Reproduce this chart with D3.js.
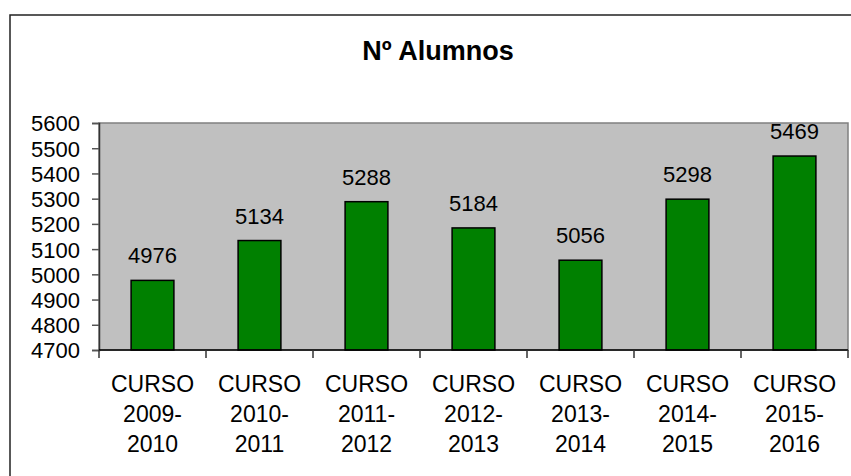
<!DOCTYPE html>
<html>
<head>
<meta charset="utf-8">
<script src="https://cdn.jsdelivr.net/npm/d3@7"></script>
<style>
  body { margin: 0; background: #fff; }
  text { font-family: "Liberation Sans", Arial, sans-serif; fill: #000; }
</style>
</head>
<body>
<div id="chart"></div>
<script>
let cursos = [
  ["CURSO", "2009-", "2010"],
  ["CURSO", "2010-", "2011"],
  ["CURSO", "2011-", "2012"],
  ["CURSO", "2012-", "2013"],
  ["CURSO", "2013-", "2014"],
  ["CURSO", "2014-", "2015"],
  ["CURSO", "2015-", "2016"]
];
let alumnos = [4976, 5134, 5288, 5184, 5056, 5298, 5469];
let yTicks = [4700, 4800, 4900, 5000, 5100, 5200, 5300, 5400, 5500, 5600];
let title = "Nº Alumnos";

let w = 851;
let h = 476;
let plot = { left: 99, top: 123, right: 848, bottom: 350 };

let svg = d3
  .select("#chart")
  .append("svg")
  .attr("width", w)
  .attr("height", h);

// outer chart border (runs off the right and bottom edges)
svg
  .append("rect")
  .attr("x", 10)
  .attr("y", 15)
  .attr("width", 900)
  .attr("height", 500)
  .attr("fill", "#fff")
  .attr("stroke", "#222")
  .attr("stroke-width", 1.5);

svg
  .append("text")
  .attr("x", 438)
  .attr("y", 60)
  .attr("text-anchor", "middle")
  .attr("font-size", 27)
  .attr("font-weight", "bold")
  .text(title);

let x = d3
  .scaleBand()
  .domain(d3.range(cursos.length))
  .range([plot.left, plot.right])
  .paddingInner(0)
  .paddingOuter(0);

let y = d3
  .scaleLinear()
  .domain([4700, 5600])
  .range([plot.bottom, plot.top]);

// plot area
svg
  .append("rect")
  .attr("x", plot.left)
  .attr("y", plot.top)
  .attr("width", plot.right - plot.left)
  .attr("height", plot.bottom - plot.top)
  .attr("fill", "#c0c0c0")
  .attr("stroke", "#808080")
  .attr("stroke-width", 1.5);

let barW = x.bandwidth() * 0.4;

svg
  .selectAll("rect.bar")
  .data(alumnos)
  .enter()
  .append("rect")
  .attr("class", "bar")
  .attr("x", (d, i) => x(i) + (x.bandwidth() - barW) / 2)
  .attr("y", d => y(d))
  .attr("width", barW)
  .attr("height", d => y(4700) - y(d))
  .attr("fill", "#008000")
  .attr("stroke", "#000")
  .attr("stroke-width", 1.5);

svg
  .selectAll("text.value")
  .data(alumnos)
  .enter()
  .append("text")
  .attr("class", "value")
  .attr("x", (d, i) => x(i) + x.bandwidth() / 2)
  .attr("y", d => y(d) - 17)
  .attr("text-anchor", "middle")
  .attr("font-size", 22)
  .text(d => d);

// y axis
let yAxis = svg
  .append("g")
  .attr("transform", `translate(${plot.left},0)`)
  .call(d3.axisLeft(y).tickValues(yTicks).tickSize(7).tickPadding(12).tickFormat(d3.format("d")));
yAxis.select(".domain").attr("stroke", "#333").attr("stroke-width", 1.5);
yAxis.selectAll(".tick line").attr("stroke", "#555").attr("stroke-width", 1.5);
yAxis
  .selectAll(".tick text")
  .attr("font-size", 22)
  .attr("font-family", "Liberation Sans, Arial, sans-serif")
  .attr("fill", "#000")
  .attr("dy", "0.36em");

// x axis with ticks at category boundaries
let xAxis = svg.append("g");
xAxis
  .append("line")
  .attr("x1", plot.left)
  .attr("x2", plot.right)
  .attr("y1", plot.bottom)
  .attr("y2", plot.bottom)
  .attr("stroke", "#000")
  .attr("stroke-width", 1.5);
xAxis
  .selectAll("line.sep")
  .data(d3.range(cursos.length + 1))
  .enter()
  .append("line")
  .attr("class", "sep")
  .attr("x1", i => (i < cursos.length ? x(i) : plot.right))
  .attr("x2", i => (i < cursos.length ? x(i) : plot.right))
  .attr("y1", plot.bottom)
  .attr("y2", plot.bottom + 8)
  .attr("stroke", "#333")
  .attr("stroke-width", 1.5);

let labels = xAxis
  .selectAll("text.cat")
  .data(cursos)
  .enter()
  .append("text")
  .attr("class", "cat")
  .attr("text-anchor", "middle")
  .attr("font-size", 23)
  .attr("transform", (d, i) => `translate(${x(i) + x.bandwidth() / 2},392)`);
labels
  .selectAll("tspan")
  .data(d => d)
  .enter()
  .append("tspan")
  .attr("x", 0)
  .attr("y", (d, j) => j * 30)
  .text(d => d);
</script>
</body>
</html>
